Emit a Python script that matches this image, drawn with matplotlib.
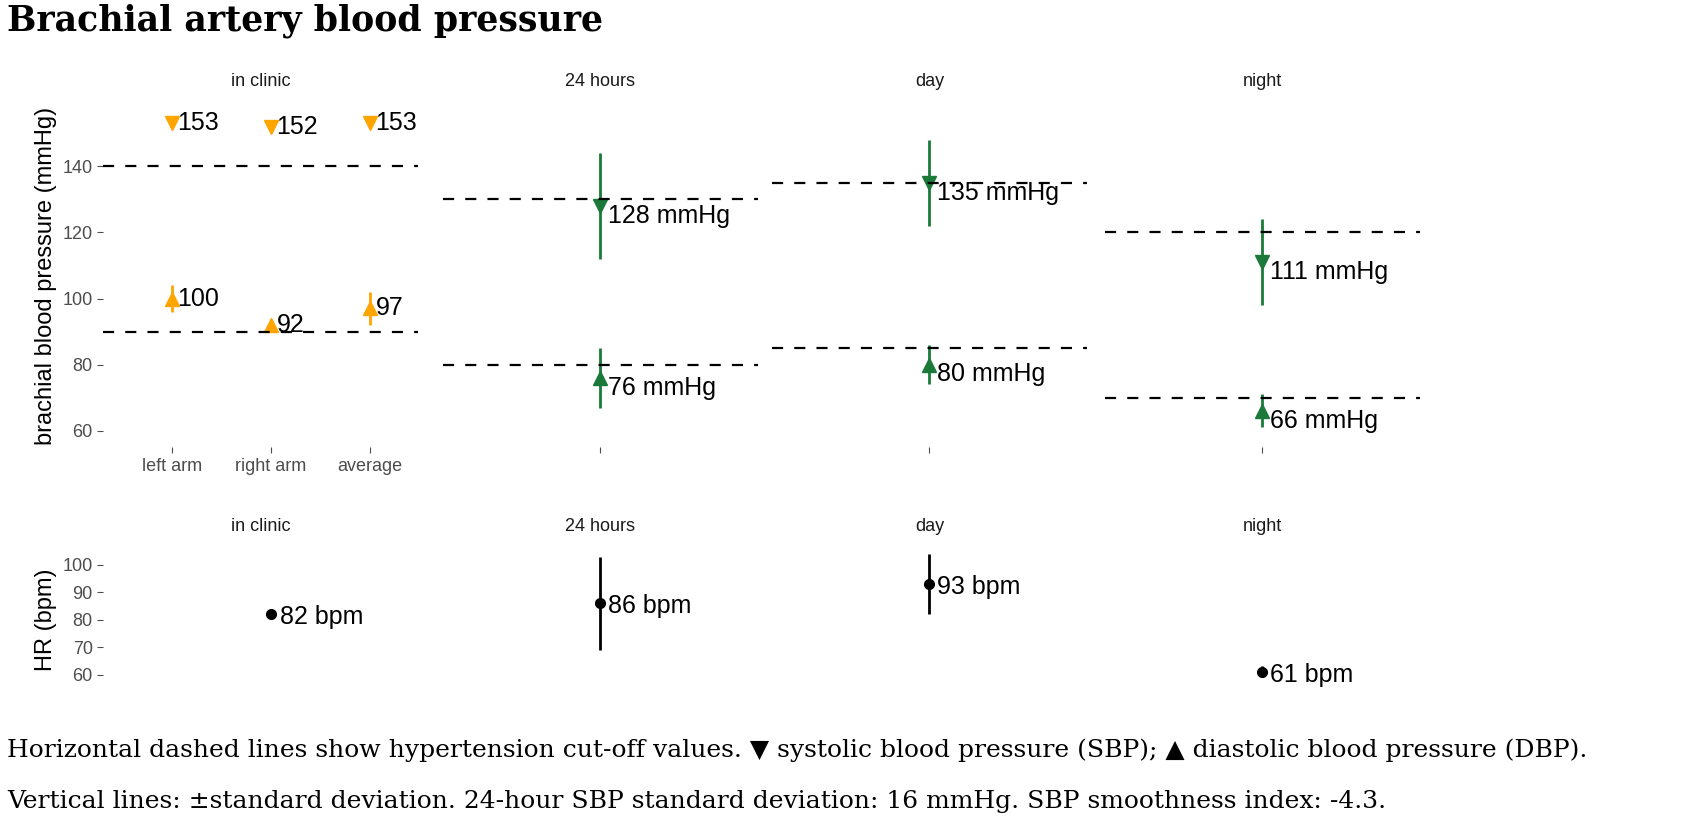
import matplotlib
matplotlib.use("Agg")
import matplotlib.pyplot as plt

plt.rcParams["font.family"] = ["Liberation Sans", "DejaVu Sans"]

# ── data ──────────────────────────────────────────────────────────────────────
panels      = ["in clinic", "24 hours", "day", "night"]
clinic_cats = ["left arm", "right arm", "average"]

clinic_sbp    = [153, 152, 153]
clinic_dbp    = [100, 92, 97]
clinic_dbp_lo = [96, 91, 92]
clinic_dbp_hi = [104, 93, 102]

amb_sbp    = [128, 135, 111]
amb_sbp_lo = [112, 122, 98]
amb_sbp_hi = [144, 148, 124]
amb_dbp    = [76, 80, 66]
amb_dbp_lo = [67, 74, 61]
amb_dbp_hi = [85, 86, 71]

cut_sbp = [140, 130, 135, 120]
cut_dbp = [90, 80, 85, 70]

hr    = [82, 86, 93, 61]
hr_lo = [82, 69, 82, 59]
hr_hi = [82, 103, 104, 63]

ORANGE = "#FFA500"
GREEN  = "#1B7A3A"
GREY   = "#4D4D4D"

fig = plt.figure(figsize=(16.93, 8.16), dpi=100)
lefts = [0.061, 0.2615, 0.456, 0.6526]
W = 0.186

for i, name in enumerate(panels):
    ax = fig.add_axes([lefts[i], 0.452, W, 0.419])
    bx = fig.add_axes([lefts[i], 0.156, W, 0.169])
    for a in (ax, bx):
        for s in a.spines.values():
            s.set_visible(False)
        a.set_title(name, fontsize=13, color="#1A1A1A", pad=14)
        a.tick_params(colors=GREY, labelsize=13, length=4)
    ax.set_ylim(55, 158.5)
    bx.set_ylim(54.9, 105.1)

    if i == 0:
        xs = [1, 2, 3]
        ax.set_xlim(0.31, 3.49)
        bx.set_xlim(0.31, 3.49)
        ax.vlines(xs, clinic_dbp_lo, clinic_dbp_hi, color=ORANGE, lw=2)
        ax.plot(xs, clinic_sbp, "v", color=ORANGE, ms=10, ls="none")
        ax.plot(xs, clinic_dbp, "^", color=ORANGE, ms=10, ls="none")
        for x, s, d in zip(xs, clinic_sbp, clinic_dbp):
            ax.text(x + 0.06, s, f"{s}", fontsize=18, va="center")
            ax.text(x + 0.06, d, f"{d}", fontsize=18, va="center")
        ax.set_xticks(xs, clinic_cats)
        ax.set_yticks([60, 80, 100, 120, 140])
        ax.set_ylabel("brachial blood pressure (mmHg)", fontsize=17, color="black")
        bx.set_yticks([60, 70, 80, 90, 100])
        bx.set_ylabel("HR (bpm)", fontsize=17, color="black")
        hx = 2
    else:
        j = i - 1
        ax.set_xlim(0.2, 1.8)
        bx.set_xlim(0.2, 1.8)
        ax.vlines([1], [amb_sbp_lo[j]], [amb_sbp_hi[j]], color=GREEN, lw=2)
        ax.vlines([1], [amb_dbp_lo[j]], [amb_dbp_hi[j]], color=GREEN, lw=2)
        ax.plot([1], [amb_sbp[j]], "v", color=GREEN, ms=10)
        ax.plot([1], [amb_dbp[j]], "^", color=GREEN, ms=10)
        ax.text(1.04, amb_sbp[j] - 3, f"{amb_sbp[j]} mmHg", fontsize=18, va="center")
        ax.text(1.04, amb_dbp[j] - 3, f"{amb_dbp[j]} mmHg", fontsize=18, va="center")
        ax.set_xticks([1], [""])
        ax.set_yticks([])
        bx.set_yticks([])
        hx = 1

    ax.axhline(cut_sbp[i], color="black", ls=(0, (5, 5)), lw=1.6)
    ax.axhline(cut_dbp[i], color="black", ls=(0, (5, 5)), lw=1.6)

    bx.vlines([hx], [hr_lo[i]], [hr_hi[i]], color="black", lw=2)
    bx.plot([hx], [hr[i]], "o", color="black", ms=7)
    bx.text(hx + (0.09 if i == 0 else 0.04), hr[i] - 1, f"{hr[i]} bpm", fontsize=18, va="center")
    bx.set_xticks([])

serif = ["DejaVu Serif", "DejaVu Sans"]
fig.text(0.004, 0.975, "Brachial artery blood pressure", fontsize=25, fontweight="bold",
         family=serif, va="center")
fig.text(0.004, 0.081,
         "Horizontal dashed lines show hypertension cut-off values. \u25bc systolic blood pressure (SBP); "
         "\u25b2 diastolic blood pressure (DBP).", fontsize=18, family=serif, va="center")
fig.text(0.004, 0.018,
         "Vertical lines: \u00b1standard deviation. 24-hour SBP standard deviation: 16 mmHg. "
         "SBP smoothness index: -4.3.", fontsize=18, family=serif, va="center")

fig.savefig("out.png", dpi=100)
